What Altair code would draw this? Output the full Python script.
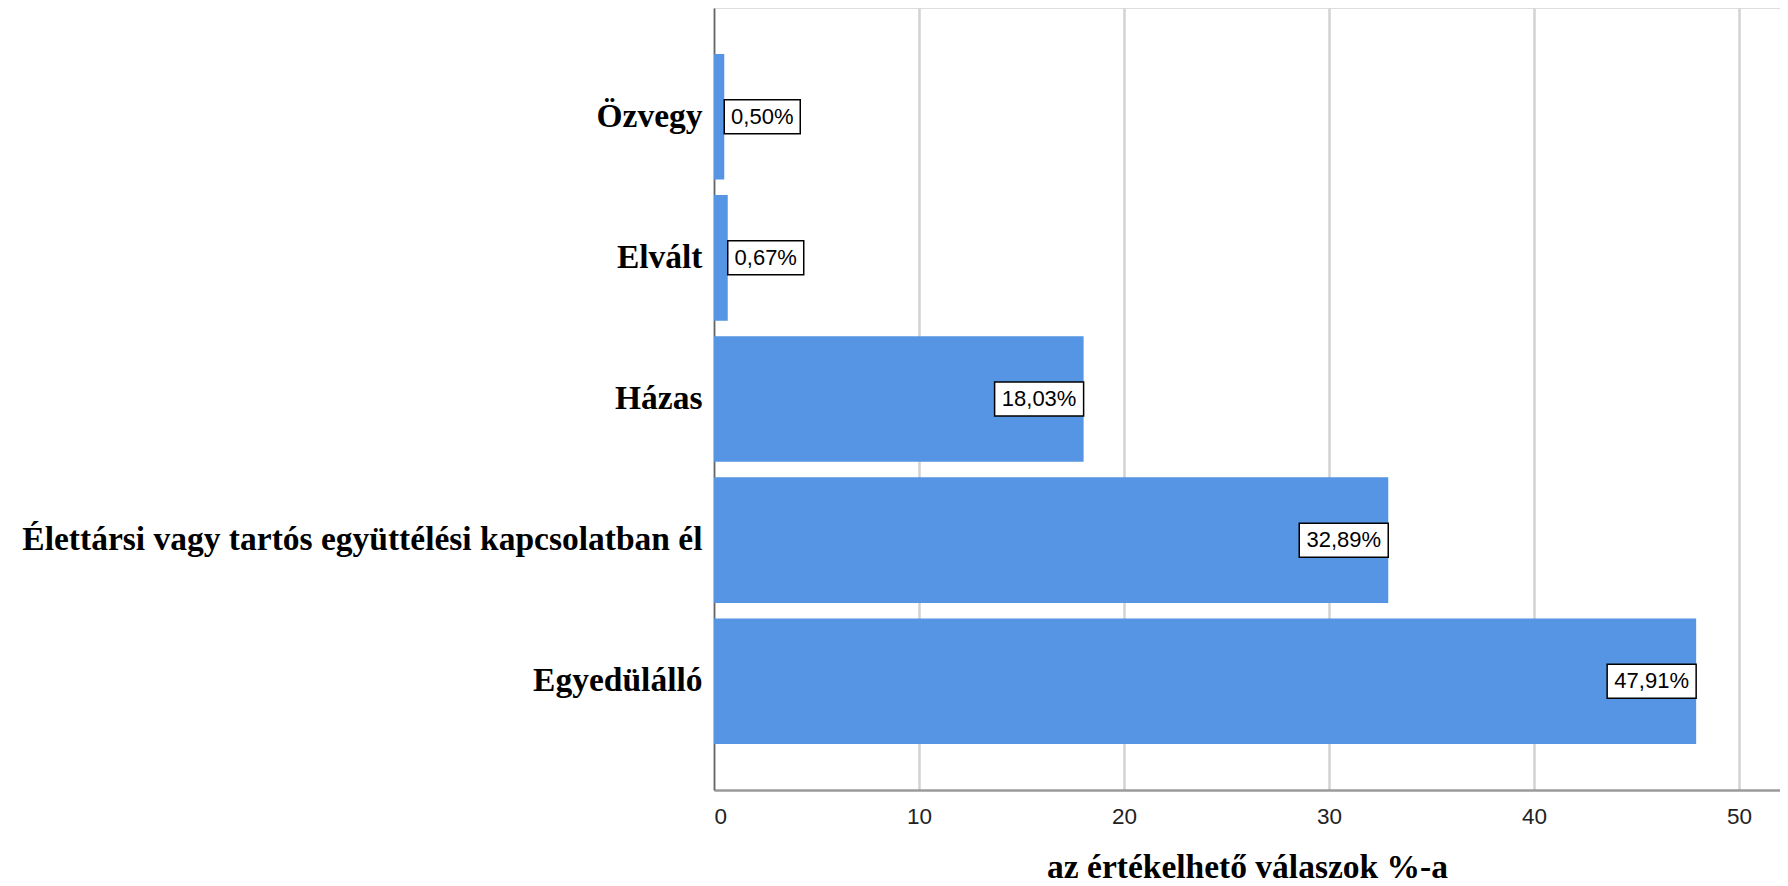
import altair as alt
import pandas as pd

categories = ["Özvegy", "Elvált", "Házas",
              "Élettársi vagy tartós együttélési kapcsolatban él", "Egyedülálló"]
values = [0.50, 0.67, 18.03, 32.89, 47.91]
x_ticks = [0, 10, 20, 30, 40, 50]

df = pd.DataFrame({"cat": categories, "v": values})
df["lab"] = [f"{v:.2f}".replace(".", ",") + "%" for v in values]

BAR = "#5595E3"
xscale = alt.Scale(domain=[0, 52], nice=False, zero=True)
yscale = alt.Scale(paddingInner=0.11, paddingOuter=0.325)

y_enc = alt.Y("cat:N", sort=categories, scale=yscale, title=None,
              axis=alt.Axis(labelFont="Liberation Serif", labelFontWeight="bold",
                            labelFontSize=33.5, labelColor="#000000", labelPadding=12,
                            labelLimit=1000, ticks=False, domainColor="#666666",
                            domainWidth=1.5, grid=False))
x_enc = alt.X("v:Q", scale=xscale, title="az értékelhető válaszok %-a",
              axis=alt.Axis(values=x_ticks, grid=True, gridColor="#d2d2d2", gridWidth=2.5,
                            ticks=False, labelFont="Liberation Sans", labelFontSize=22.5,
                            labelColor="#222222", labelPadding=15,
                            domainColor="#9a9a9a", domainWidth=2.5,
                            titleFont="Liberation Serif", titleFontWeight="bold",
                            titleFontSize=33.5, titleColor="#000000",
                            titleY=77, titleBaseline="middle"))

base = alt.Chart(df)

bars = base.mark_bar(color=BAR).encode(x=x_enc, y=y_enc)

inside = base.transform_filter("datum.v >= 5")
outside = base.transform_filter("datum.v < 5")

box_in = inside.mark_bar(height=34, xOffset=-89, fill="white", stroke="black",
                         strokeWidth=1.5).encode(
    x=alt.X("v:Q", scale=xscale), x2="v:Q", y=alt.Y("cat:N", sort=categories, scale=yscale))
txt_in = inside.mark_text(dx=-44.5, align="center", baseline="middle",
                          font="Liberation Sans", fontSize=22, color="black").encode(
    x=alt.X("v:Q", scale=xscale), y=alt.Y("cat:N", sort=categories, scale=yscale),
    text="lab:N")

box_out = outside.mark_bar(height=34, x2Offset=76, fill="white", stroke="black",
                           strokeWidth=1.5).encode(
    x=alt.X("v:Q", scale=xscale), x2="v:Q", y=alt.Y("cat:N", sort=categories, scale=yscale))
txt_out = outside.mark_text(dx=38, align="center", baseline="middle",
                            font="Liberation Sans", fontSize=22, color="black").encode(
    x=alt.X("v:Q", scale=xscale), y=alt.Y("cat:N", sort=categories, scale=yscale),
    text="lab:N")

chart = alt.layer(bars, box_in, txt_in, box_out, txt_out).properties(
    width=1066, height=782,
    autosize=alt.AutoSizeParams(type="none"),
    padding={"left": 706, "top": 0, "right": 0, "bottom": 94},
).configure_view(stroke=None).configure(background="white")

chart.save("out.html", embed_options={"renderer": "svg", "actions": False})
